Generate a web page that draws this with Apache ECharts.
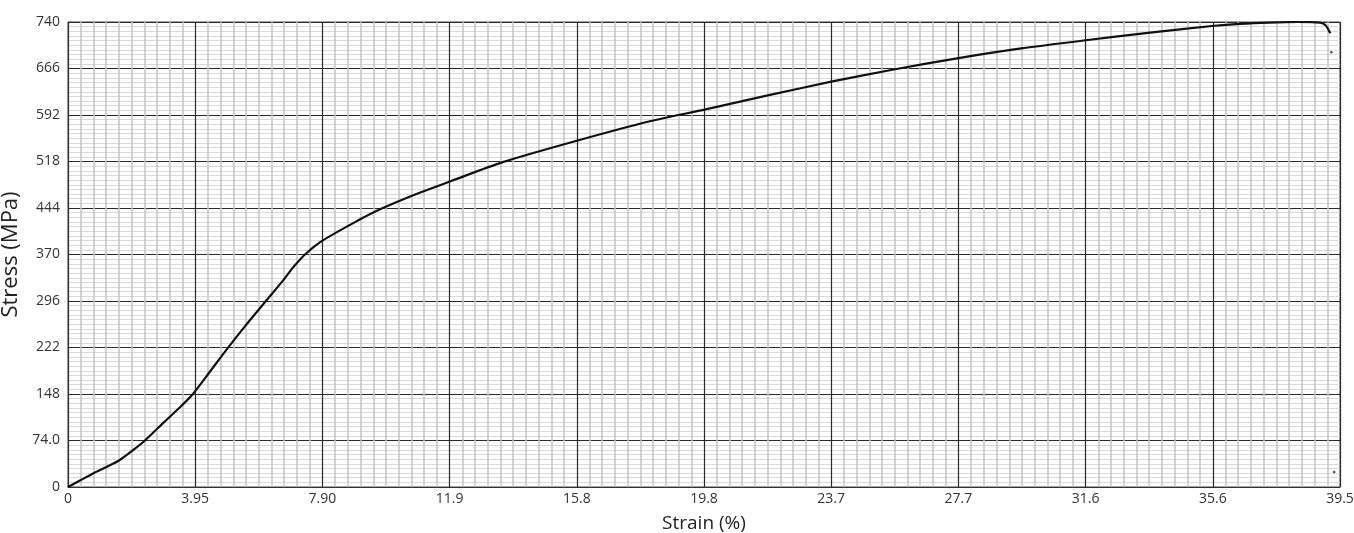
<!DOCTYPE html>
<html>
<head>
<meta charset="utf-8">
<title>Stress-Strain</title>
<script src="https://cdn.jsdelivr.net/npm/echarts@6/dist/echarts.min.js"></script>
<style>
  html,body{margin:0;padding:0;background:#fff;}
  #chart{width:1354px;height:533px;}
</style>
</head>
<body>
<div id="chart"></div>
<script>
// strain (%) / stress (MPa)
var strain = [0, 0.4, 0.79, 1.2, 1.61, 2.03, 2.39, 3.0, 3.5, 3.88, 4.4, 4.9, 5.5, 6.18, 6.7, 7.0, 7.36, 7.9,
              9.0, 9.69, 10.8, 11.9, 13.5, 15.8, 18.07, 19.8, 21.8, 23.7, 25.6, 27.7, 29.6, 31.6, 33.6, 35.6,
              36.4, 37.3, 38.2, 38.88, 39.05, 39.2];
var stress = [0, 11, 22, 32, 43, 59, 74, 104, 128, 148, 183, 217, 256, 298, 330, 350, 370, 392,
              424, 442, 466, 487, 517, 551, 582, 601, 624, 645, 664, 683, 698, 711, 723, 734,
              737, 739, 740, 739, 735, 722];
// stray points after fracture
var tailStrain = [39.23, 39.32];
var tailStress = [692, 24];

var xTickLabels = ['0', '3.95', '7.90', '11.9', '15.8', '19.8', '23.7', '27.7', '31.6', '35.6', '39.5'];
var yTickLabels = ['0', '74.0', '148', '222', '296', '370', '444', '518', '592', '666', '740'];

var curve = strain.map(function (s, i) { return [s, stress[i]]; });
var tail = tailStrain.map(function (s, i) { return [s, tailStress[i]]; });

var chart = echarts.init(document.getElementById('chart'));
var fnt = '"Open Sans", "Noto Sans", sans-serif';

chart.setOption({
    animation: false,
    grid: {
        left: 68, right: 14, top: 22, bottom: 46,
        outerBoundsMode: 'none',
        containLabel: false,
        show: true, borderColor: '#444', borderWidth: 1
    },
    xAxis: {
        type: 'value',
        min: 0, max: 39.5, interval: 3.95,
        name: 'Strain (%)',
        nameLocation: 'middle',
        nameGap: 27,
        nameTextStyle: {fontFamily: fnt, fontSize: 19, color: '#222'},
        axisLine: {show: true, lineStyle: {color: '#333'}},
        axisTick: {show: false},
        axisLabel: {
            fontFamily: fnt, fontSize: 14, color: '#333', margin: 5,
            showMaxLabel: true, showMinLabel: true,
            formatter: function (v) { return xTickLabels[Math.round(v / 3.95)]; }
        },
        splitLine: {show: true, lineStyle: {color: '#2a2a2a', width: 1.2}},
        minorTick: {show: false, splitNumber: 10},
        minorSplitLine: {show: true, lineStyle: {color: '#c4c4c4', width: 1.5}}
    },
    yAxis: {
        type: 'value',
        min: 0, max: 740, interval: 74,
        name: 'Stress (MPa)',
        nameLocation: 'middle',
        nameGap: 36,
        nameTextStyle: {fontFamily: fnt, fontSize: 22, color: '#222'},
        axisLine: {show: true, lineStyle: {color: '#333'}},
        axisTick: {show: false},
        axisLabel: {
            fontFamily: fnt, fontSize: 14, color: '#333', margin: 8,
            formatter: function (v) { return yTickLabels[Math.round(v / 74)]; }
        },
        splitLine: {show: true, lineStyle: {color: '#2a2a2a', width: 1.2}},
        minorTick: {show: false, splitNumber: 10},
        minorSplitLine: {show: true, lineStyle: {color: '#dadada', width: 1}}
    },
    series: [
        {
            name: 'Stress',
            type: 'line',
            data: curve,
            smooth: 0.25,
            symbol: 'none',
            lineStyle: {color: '#111', width: 2.2}
        },
        {
            name: 'Tail',
            type: 'scatter',
            data: tail,
            symbolSize: 2.5,
            itemStyle: {color: '#222'}
        }
    ]
});
</script>
</body>
</html>
